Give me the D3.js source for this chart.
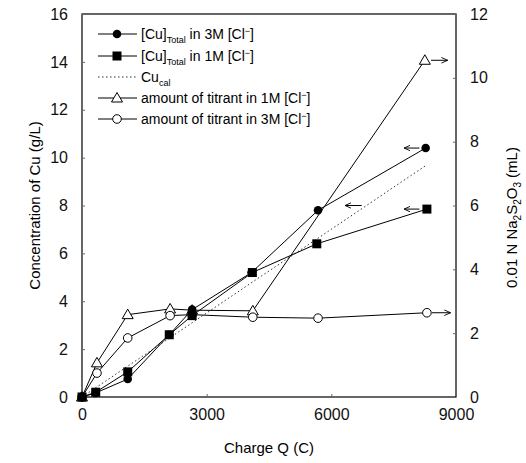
<!DOCTYPE html>
<html>
<head>
<meta charset="utf-8">
<script src="https://cdn.jsdelivr.net/npm/d3@7"></script>
<style>
  body { margin: 0; background: #fff; }
  svg { display: block; font-family: "Liberation Sans", Arial, sans-serif; }
</style>
</head>
<body>
<div id="chart"></div>
<script>
// charge Q (C) and values
const cu3Q = [0, 330, 1100, 2100, 2650, 4080, 5680, 8270];
const cu3 = [0, 0.17, 0.75, 2.6, 3.65, 5.2, 7.8, 10.4];

const cu1Q = [0, 330, 1100, 2100, 2650, 4100, 5650, 8300];
const cu1 = [0, 0.2, 1.05, 2.6, 3.4, 5.2, 6.4, 7.85];

const calQ = [0, 2650, 4100, 5650, 8300];
const cuCal = [0, 3.1, 4.8, 6.6, 9.7];

const tit1Q = [0, 360, 1100, 2120, 2650, 4110, 8250];
const tit1 = [0, 1.07, 2.58, 2.76, 2.72, 2.7, 10.55];

const tit3Q = [0, 360, 1100, 2120, 2650, 4110, 5680, 8300];
const tit3 = [0, 0.75, 1.85, 2.55, 2.58, 2.5, 2.47, 2.64];

const xTicks = [0, 3000, 6000, 9000];
const yLeftTicks = [0, 2, 4, 6, 8, 10, 12, 14, 16];
const yRightTicks = [0, 2, 4, 6, 8, 10, 12];

const width = 526, height = 463;
const margin = { top: 14, right: 70, bottom: 66, left: 82 };

const svg = d3.select('#chart').append('svg')
  .attr('width', width)
  .attr('height', height);

const x = d3.scaleLinear().domain([0, 9000]).range([margin.left, width - margin.right]);
const yL = d3.scaleLinear().domain([0, 16]).range([height - margin.bottom, margin.top]);
const yR = d3.scaleLinear().domain([0, 12]).range([height - margin.bottom, margin.top]);

// frame
svg.append('rect')
  .attr('x', x(0))
  .attr('y', yL(16))
  .attr('width', x(9000) - x(0))
  .attr('height', yL(0) - yL(16))
  .attr('fill', 'none')
  .attr('stroke', '#000')
  .attr('stroke-width', 1.2);

// axes
const axisStyle = (g) => {
  g.select('.domain').remove();
  g.selectAll('text')
    .attr('fill', '#111')
    .style('font-size', '16px');
  g.selectAll('line').attr('stroke', '#666');
};

svg.append('g')
  .attr('transform', `translate(0,${yL(0)})`)
  .call(d3.axisBottom(x).tickValues(xTicks).tickSize(-3).tickPadding(12).tickFormat(d3.format('d')))
  .call(axisStyle);

svg.append('g')
  .attr('transform', `translate(${x(0)},0)`)
  .call(d3.axisLeft(yL).tickValues(yLeftTicks).tickSize(-3).tickPadding(14))
  .call(axisStyle);

svg.append('g')
  .attr('transform', `translate(${x(9000)},0)`)
  .call(d3.axisRight(yR).tickValues(yRightTicks).tickSize(-3).tickPadding(14))
  .call(axisStyle);

// axis titles
svg.append('text')
  .attr('x', (x(0) + x(9000)) / 2)
  .attr('y', 453)
  .attr('text-anchor', 'middle')
  .style('font-size', '15px')
  .text('Charge Q (C)');

svg.append('text')
  .attr('transform', `translate(40,${(yL(0) + yL(16)) / 2}) rotate(-90)`)
  .attr('text-anchor', 'middle')
  .style('font-size', '15px')
  .text('Concentration of Cu (g/L)');

// text with sub/superscripts, shifted with dy so that shifts do not pile up
const richText = (t, parts, base, small) => {
  let shift = 0;
  parts.forEach(([s, kind]) => {
    const target = kind === 'sub' ? 4 : kind === 'super' ? -5 : 0;
    t.append('tspan')
      .attr('dy', target - shift)
      .style('font-size', kind ? small : base)
      .text(s);
    shift = target;
  });
};

const rt = svg.append('text')
  .attr('transform', `translate(517,${(yL(0) + yL(16)) / 2 + 12}) rotate(-90)`)
  .attr('text-anchor', 'middle');
richText(rt, [['0.01 N Na', ''], ['2', 'sub'], ['S', ''], ['2', 'sub'], ['O', ''], ['3', 'sub'], [' (mL)', '']], '15px', '10px');

// series
const line = (qs, vs, y) => d3.line().x((d) => x(d)).y((_, i) => y(vs[i]))(qs);

const plot = svg.append('g');

plot.append('path').attr('d', line(calQ, cuCal, yL))
  .attr('fill', 'none').attr('stroke', '#333').attr('stroke-width', 1)
  .attr('stroke-dasharray', '1.5,2.5');

const series = [
  { q: tit1Q, v: tit1, y: yR, marker: 'triangle' },
  { q: tit3Q, v: tit3, y: yR, marker: 'ocircle' },
  { q: cu1Q, v: cu1, y: yL, marker: 'square' },
  { q: cu3Q, v: cu3, y: yL, marker: 'circle' },
];

const drawMarker = (g, type, cx, cy) => {
  if (type === 'circle') {
    g.append('circle').attr('cx', cx).attr('cy', cy).attr('r', 4.3).attr('fill', '#000');
  } else if (type === 'square') {
    g.append('rect').attr('x', cx - 4.5).attr('y', cy - 4.5).attr('width', 9).attr('height', 9).attr('fill', '#000');
  } else if (type === 'ocircle') {
    g.append('circle').attr('cx', cx).attr('cy', cy).attr('r', 4.3)
      .attr('fill', '#fff').attr('stroke', '#000').attr('stroke-width', 1);
  } else if (type === 'triangle') {
    g.append('path')
      .attr('d', `M${cx},${cy - 5.5} L${cx + 5.5},${cy + 4} L${cx - 5.5},${cy + 4} Z`)
      .attr('fill', '#fff').attr('stroke', '#000').attr('stroke-width', 1);
  }
};

series.forEach((s) => {
  plot.append('path').attr('d', line(s.q, s.v, s.y))
    .attr('fill', 'none').attr('stroke', '#000').attr('stroke-width', 1);
});
series.forEach((s) => {
  s.q.forEach((q, i) => drawMarker(plot, s.marker, x(q), s.y(s.v[i])));
});

// arrows pointing to the axis each series belongs to
svg.append('defs').append('marker')
  .attr('id', 'ah')
  .attr('viewBox', '0 0 10 10')
  .attr('refX', 9).attr('refY', 5)
  .attr('markerWidth', 7).attr('markerHeight', 7)
  .attr('orient', 'auto')
  .append('path')
  .attr('d', 'M0,1 L9,5 L0,9')
  .attr('fill', 'none').attr('stroke', '#000').attr('stroke-width', 1.3);

const arrows = [
  { from: [8120, 10.4], to: [7750, 10.4], y: yL },
  { from: [8120, 7.85], to: [7750, 7.85], y: yL },
  { from: [6730, 8.0], to: [6330, 8.0], y: yL },
  { from: [8400, 10.55], to: [8800, 10.55], y: yR },
  { from: [8420, 2.64], to: [8870, 2.64], y: yR },
];
arrows.forEach((a) => {
  svg.append('line')
    .attr('x1', x(a.from[0])).attr('y1', a.y(a.from[1]))
    .attr('x2', x(a.to[0])).attr('y2', a.y(a.to[1]))
    .attr('stroke', '#000').attr('stroke-width', 1)
    .attr('marker-end', 'url(#ah)');
});

// legend
const legendItems = [
  { marker: 'circle', dash: null, parts: [['[Cu]', ''], ['Total', 'sub'], [' in 3M [Cl', ''], ['\u2212', 'super'], [']', '']] },
  { marker: 'square', dash: null, parts: [['[Cu]', ''], ['Total', 'sub'], [' in 1M [Cl', ''], ['\u2212', 'super'], [']', '']] },
  { marker: null, dash: '1.5,2.5', parts: [['Cu', ''], ['cal', 'sub']] },
  { marker: 'triangle', dash: null, parts: [['amount of titrant in 1M [Cl', ''], ['\u2212', 'super'], [']', '']] },
  { marker: 'ocircle', dash: null, parts: [['amount of titrant in 3M [Cl', ''], ['\u2212', 'super'], [']', '']] },
];
const legendY = [34, 56, 77, 98, 119];

const legend = svg.append('g');
legendItems.forEach((item, i) => {
  const ly = legendY[i];
  legend.append('line')
    .attr('x1', 98).attr('x2', 137).attr('y1', ly).attr('y2', ly)
    .attr('stroke', item.dash ? '#333' : '#000').attr('stroke-width', 1)
    .attr('stroke-dasharray', item.dash);
  if (item.marker) drawMarker(legend, item.marker, 117, ly);
  const t = legend.append('text')
    .attr('x', 141).attr('y', ly + 5);
  richText(t, item.parts, '14px', '9px');
});
</script>
</body>
</html>
